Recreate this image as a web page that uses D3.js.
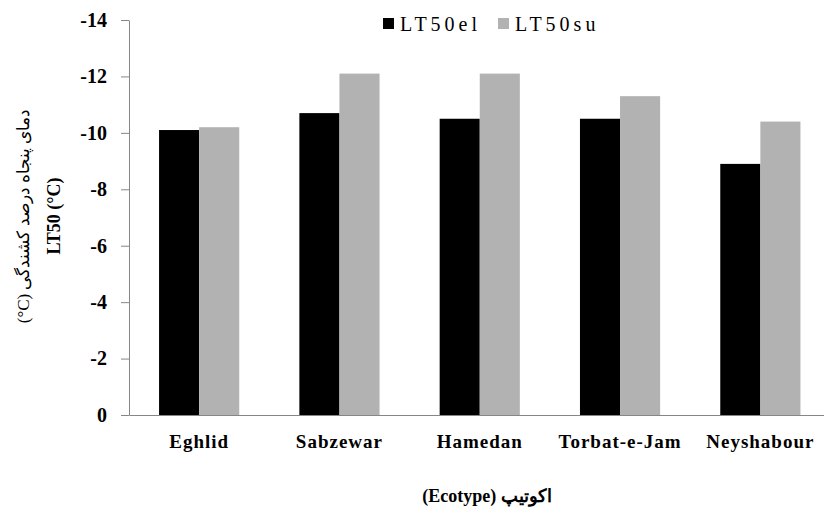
<!DOCTYPE html>
<html><head><meta charset="utf-8">
<script src="https://cdn.jsdelivr.net/npm/d3@7"></script>
<style>
body{margin:0;background:#fff;}
text{font-family:"Liberation Serif","Times New Roman",serif;}
</style></head>
<body><svg id="c" width="824" height="521"></svg>
<script>
const categories = ["Eghlid","Sabzewar","Hamedan","Torbat-e-Jam","Neyshabour"];
const seriesNames = ["LT50el","LT50su"];
const lt50el = [-10.1,-10.7,-10.5,-10.5,-8.9];
const lt50su = [-10.2,-12.1,-12.1,-11.3,-10.4];
const yTicks = [0,-2,-4,-6,-8,-10,-12,-14];
const colors = ["#000000","#b2b2b2"];

(function(){
const svg = d3.select("#c");
const pLeft=129, pRight=830.5, pTop=20, pBottom=415;
const x0 = d3.scaleBand().domain(categories).range([pLeft,pRight]).padding(0);
const x1 = d3.scaleBand().domain(seriesNames).range([0,x0.bandwidth()]).paddingInner(0).paddingOuter(0.75);
const y = d3.scaleLinear().domain([0,-14]).range([pBottom,pTop]);

const rows = categories.map((c,i)=>({cat:c, vals:[lt50el[i],lt50su[i]]}));
const g = svg.append("g");
g.selectAll("g.grp").data(rows).join("g").attr("class","grp")
 .attr("transform",d=>`translate(${x0(d.cat)},0)`)
 .selectAll("rect").data(d=>d.vals.map((v,k)=>({s:seriesNames[k],v,k})))
 .join("rect")
 .attr("x",d=>x1(d.s)).attr("width",x1.bandwidth())
 .attr("y",d=>y(d.v)).attr("height",d=>y(0)-y(d.v))
 .attr("fill",d=>colors[d.k]);

const ya = svg.append("g").attr("transform",`translate(${pLeft},0)`)
 .call(d3.axisLeft(y).tickValues(yTicks).tickSize(8).tickSizeOuter(0).tickPadding(14).tickFormat(d=>String(d)));
ya.select(".domain").attr("stroke","#868686");
ya.selectAll(".tick line").attr("stroke","#868686");
ya.selectAll(".tick text").attr("font-size","20px").attr("font-weight","bold").attr("fill","#000")
  .attr("font-family","Liberation Serif, serif");

const xa = svg.append("g").attr("transform",`translate(0,${pBottom})`)
 .call(d3.axisBottom(x0).tickSize(0).tickSizeOuter(0).tickPadding(20));
xa.select(".domain").attr("stroke","#868686");
xa.selectAll(".tick text").attr("font-size","19px").attr("font-weight","bold").attr("fill","#000")
  .attr("letter-spacing","1px").attr("font-family","Liberation Serif, serif");

const lg = svg.append("g");
const legX=[383,498];
seriesNames.forEach((s,k)=>{
  lg.append("rect").attr("x",legX[k]).attr("y",18).attr("width",11).attr("height",11).attr("fill",colors[k]);
  lg.append("text").attr("x",legX[k]+17).attr("y",31).attr("font-size","20px").attr("letter-spacing","4px").text(s);
});

svg.append("text").attr("transform","translate(29,216) rotate(-90)").attr("text-anchor","middle")
  .attr("font-size","17px").attr("font-family","DejaVu Sans, Noto Sans, sans-serif").attr("direction","rtl")
  .text("دمای پنجاه درصد کشندگی (\u200E°C)");
svg.append("text").attr("transform","translate(60,216) rotate(-90)").attr("text-anchor","middle")
  .attr("font-size","18px").attr("font-weight","bold").text("LT50 (°C)");

svg.append("text").attr("x",487).attr("y",502).attr("text-anchor","middle")
  .attr("font-size","18px").attr("font-weight","bold").attr("direction","rtl")
  .text("اکوتیپ (Ecotype)");
})();
</script></body></html>
